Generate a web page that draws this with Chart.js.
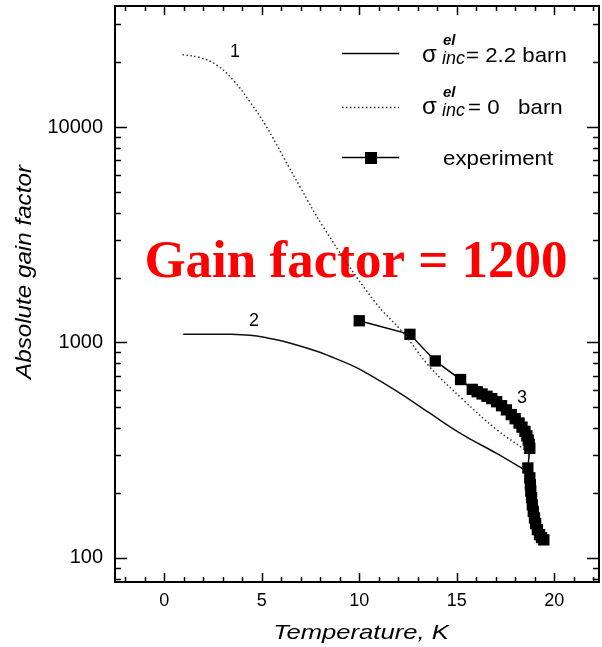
<!DOCTYPE html>
<html><head><meta charset="utf-8">
<script src="https://cdn.jsdelivr.net/npm/chart.js@4.4.1/dist/chart.umd.min.js"></script>
<style>html,body{margin:0;padding:0;background:#fff}#wrap{width:602px;height:647px}</style>
</head><body><div id="wrap"><canvas id="c" width="602" height="647"></canvas></div>
<script>
// ---- data ----
const xTickValues = [0, 5, 10, 15, 20];
const yTickValues = [100, 1000, 10000];
// curve 1: sigma_inc^el = 0 barn (dotted)
const curve1T = [0.93, 1.85, 2.69, 3.54, 4.39, 5.25, 6.1, 6.96, 8.15, 10.72, 12.26, 13.6, 15.33, 17.05, 18.58, 18.72];
const curve1G = [21700, 21000, 19400, 16500, 13100, 10000, 7280, 5280, 3440, 1575, 1105, 773, 541, 393, 311, 292];
// curve 2: sigma_inc^el = 2.2 barn (solid)
const curve2T = [0.97, 2.0, 3.37, 4.39, 5.25, 6.1, 7.82, 8.5, 9.51, 10.2, 11.9, 13.6, 15.3, 17.05, 18.5];
const curve2G = [1090, 1092, 1090, 1078, 1050, 1012, 910, 862, 790, 735, 595, 470, 373, 305, 255];
// experiment
const expT = [10.0, 12.6, 13.9, 15.2, 15.8, 16.05, 16.3, 16.55, 16.8, 17.05, 17.3, 17.55, 17.8, 18.0, 18.2, 18.35, 18.5, 18.6, 18.67, 18.72, 18.75, 18.65, 18.75, 18.78, 18.8, 18.84, 18.88, 18.93, 18.99, 19.05, 19.14, 19.25, 19.35, 19.47];
const expG = [1260, 1090, 820, 672, 605, 590, 576, 562, 548, 530, 508, 486, 462, 442, 422, 404, 386, 368, 352, 336, 322, 261, 235, 218, 204, 190, 176, 164, 153, 144, 135, 128, 124, 121];

const pts = (T, G) => T.map((t, i) => ({x: t, y: G[i]}));

const SANS = '"Liberation Sans", Arial, Helvetica, sans-serif';

function stretchText(ctx, txt, x, y, sx, align) {
  ctx.save();
  ctx.translate(x, y);
  ctx.scale(sx, 1);
  ctx.textAlign = align || 'left';
  ctx.fillText(txt, 0, 0);
  ctx.restore();
}

const decorPlugin = {
  id: 'decor',
  beforeDatasetsDraw(chart) {
    const ctx = chart.ctx;
    ctx.save();
    ctx.fillStyle = '#ff0000';
    ctx.font = 'bold 53px "Liberation Serif", "Times New Roman", serif';
    ctx.textAlign = 'center';
    ctx.textBaseline = 'alphabetic';
    ctx.fillText('Gain factor = 1200', 356, 277);
    ctx.restore();
  },
  afterDraw(chart) {
    const {ctx, chartArea: a, scales: {x, y}} = chart;
    ctx.save();
    ctx.strokeStyle = '#000';
    ctx.lineWidth = 2;
    ctx.strokeRect(a.left, a.top, a.right - a.left, a.bottom - a.top);
    ctx.lineWidth = 1.5;
    ctx.beginPath();
    for (let t = -2; t <= 22; t++) {
      const px = Math.round(x.getPixelForValue(t)) + 0.5;
      const len = (t % 5 === 0) ? 9 : 5;
      ctx.moveTo(px, a.bottom); ctx.lineTo(px, a.bottom - len);
      ctx.moveTo(px, a.top); ctx.lineTo(px, a.top + len);
    }
    for (let d = 1; d <= 4; d++) {
      for (let m = 1; m <= 9; m++) {
        const v = m * Math.pow(10, d);
        if (v < y.min || v > y.max) continue;
        const py = Math.round(y.getPixelForValue(v)) + 0.5;
        const len = (m === 1) ? 12 : 6;
        ctx.moveTo(a.left, py); ctx.lineTo(a.left + len, py);
        ctx.moveTo(a.right, py); ctx.lineTo(a.right - len, py);
      }
    }
    ctx.stroke();

    // axis titles
    ctx.fillStyle = '#000';
    ctx.textBaseline = 'alphabetic';
    ctx.font = 'italic 21px ' + SANS;
    stretchText(ctx, 'Temperature, K', 361, 639, 1.22, 'center');
    ctx.save();
    ctx.translate(31, 272);
    ctx.rotate(-Math.PI / 2);
    ctx.font = 'italic 22px ' + SANS;
    ctx.textAlign = 'center';
    ctx.scale(1.1, 1);
    ctx.fillText('Absolute gain factor', 0, 0);
    ctx.restore();

    // curve labels
    ctx.font = '18px ' + SANS;
    ctx.textAlign = 'center';
    ctx.textBaseline = 'middle';
    ctx.fillText('1', 235, 52);
    ctx.fillText('2', 254, 321);
    ctx.fillText('3', 522, 398);

    // legend
    ctx.textBaseline = 'alphabetic';
    ctx.strokeStyle = '#000';
    ctx.lineWidth = 1.5;
    ctx.setLineDash([]);
    ctx.beginPath(); ctx.moveTo(342, 53.5); ctx.lineTo(399, 53.5); ctx.stroke();
    ctx.strokeStyle = '#333';
    ctx.setLineDash([1.5, 2.5]);
    ctx.beginPath(); ctx.moveTo(342, 107.5); ctx.lineTo(399, 107.5); ctx.stroke();
    ctx.setLineDash([]);
    ctx.strokeStyle = '#000';
    ctx.beginPath(); ctx.moveTo(342, 157.5); ctx.lineTo(399, 157.5); ctx.stroke();
    ctx.fillRect(365, 152, 12, 12);

    ctx.textAlign = 'left';
    // row 1
    ctx.font = '24px ' + SANS;
    ctx.fillText('σ', 422, 62);
    ctx.font = 'italic bold 15px ' + SANS;
    ctx.fillText('el', 443, 45);
    ctx.font = 'italic 18px ' + SANS;
    ctx.fillText('inc', 442, 64);
    ctx.font = '21px ' + SANS;
    stretchText(ctx, '= 2.2 barn', 466, 62, 1.06);
    // row 2
    ctx.font = '24px ' + SANS;
    ctx.fillText('σ', 422, 114);
    ctx.font = 'italic bold 15px ' + SANS;
    ctx.fillText('el', 443, 97);
    ctx.font = 'italic 18px ' + SANS;
    ctx.fillText('inc', 442, 116);
    ctx.font = '21px ' + SANS;
    stretchText(ctx, '= 0   barn', 468, 114, 1.06);
    // row 3
    stretchText(ctx, 'experiment', 443, 165, 1.06);
    ctx.restore();
  }
};

function zeroPad(s) { s.paddingTop = 0; s.paddingBottom = 0; s.paddingLeft = 0; s.paddingRight = 0; }

new Chart(document.getElementById('c'), {
  type: 'line',
  data: {
    datasets: [
      {
        label: 'sigma 2.2 barn',
        data: pts(curve2T, curve2G),
        borderColor: '#111', borderWidth: 1.5, pointRadius: 0,
        tension: 0.4, fill: false
      },
      {
        label: 'sigma 0 barn',
        data: pts(curve1T, curve1G),
        borderColor: '#333', borderWidth: 1.5, borderDash: [1.5, 2.5], pointRadius: 0,
        tension: 0.4, fill: false
      },
      {
        label: 'experiment',
        data: pts(expT, expG),
        borderColor: '#000', borderWidth: 1.5, tension: 0,
        pointStyle: 'rect', pointRadius: 8, pointBackgroundColor: '#000', pointBorderWidth: 0,
        fill: false
      }
    ]
  },
  options: {
    responsive: false,
    animation: false,
    devicePixelRatio: 1,
    layout: {autoPadding: false, padding: {top: 6, right: 3, left: 0, bottom: 0}},
    plugins: {legend: {display: false}, tooltip: {enabled: false}},
    scales: {
      x: {
        type: 'linear', min: -2.53, max: 22.3,
        grid: {display: false, drawTicks: false},
        border: {display: false},
        afterBuildTicks: s => { s.ticks = xTickValues.map(v => ({value: v})); },
        afterFit: s => { s.height = 65; zeroPad(s); },
        ticks: {color: '#000', padding: 8, font: {family: SANS, size: 18}, callback: v => String(v), maxRotation: 0}
      },
      y: {
        type: 'logarithmic', min: 77.1, max: 36500,
        grid: {display: false, drawTicks: false},
        border: {display: false},
        afterBuildTicks: s => { s.ticks = yTickValues.map(v => ({value: v})); },
        afterFit: s => { s.width = 115; zeroPad(s); },
        ticks: {color: '#000', padding: 12, font: {family: SANS, size: 20}, callback: v => String(v)}
      }
    }
  },
  plugins: [decorPlugin]
});
</script>
</body></html>
